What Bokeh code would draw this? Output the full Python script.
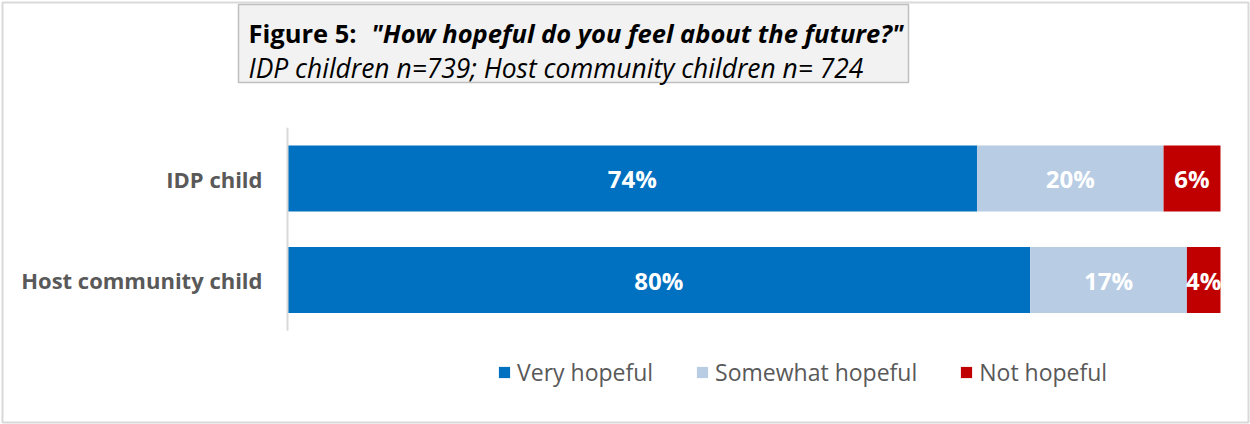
from bokeh.plotting import figure
from bokeh.models import Range1d, Label, Legend, LegendItem, ColumnDataSource
from bokeh.core.properties import value
from bokeh.embed import file_html
from bokeh.resources import INLINE

# ---- data ----
categories = ["Host community child", "IDP child"]   # bottom to top
series = ["Very hopeful", "Somewhat hopeful", "Not hopeful"]
very_hopeful = [79.6, 73.9]
somewhat_hopeful = [16.8, 20.0]
not_hopeful = [3.6, 6.1]
colors = ["#0070C0", "#B8CCE4", "#C00000"]
title_bold = "Figure 5: "
title_question = "\"How hopeful do you feel about the future?\""
subtitle = "IDP children n=739; Host community children n= 724"

FONT = "Open Sans"
GREY = "#595959"
W, H = 1250, 424

# pixel geometry of the plotting area (bars span 0..100 %)
BAR_LEFT_PX, BAR_RIGHT_PX = 287, 1220
ROW_TOP_PX, ROW_STEP_PX = 178, 101.5   # centre of top row, spacing of rows
n = len(categories)
sx = (BAR_RIGHT_PX - BAR_LEFT_PX) / 100.0


def dx(px):
    return (px - BAR_LEFT_PX) / sx


def dy(py):
    return (n - 1) - (py - ROW_TOP_PX) / ROW_STEP_PX


p = figure(width=W, height=H, output_backend="svg", toolbar_location=None,
           x_range=Range1d(dx(0), dx(W)), y_range=Range1d(dy(H), dy(0)),
           x_axis_location=None, y_axis_location=None, min_border=0)
p.grid.visible = False
p.outline_line_color = None
p.background_fill_color = "white"

# outer border
p.quad(left=[dx(2)], right=[dx(1248)], top=[dy(2)], bottom=[dy(422)],
       fill_alpha=0, line_color="#D9D9D9", line_width=2)

# title box
p.quad(left=[dx(238)], right=[dx(908)], top=[dy(4)], bottom=[dy(82)],
       fill_color="#F2F2F2", line_color="#BFBFBF", line_width=1.5)
p.add_layout(Label(x=dx(248), y=dy(32), text=title_bold, text_font=FONT,
                   text_font_style="bold", text_font_size="25.5px",
                   text_color="black", text_baseline="alphabetic"))
p.add_layout(Label(x=dx(903), y=dy(32), text=title_question, text_font=FONT,
                   text_font_style="bold italic", text_font_size="25.5px",
                   text_color="black", text_baseline="alphabetic",
                   text_align="right"))
p.add_layout(Label(x=dx(248), y=dy(67), text=subtitle, text_font=FONT,
                   text_font_style="italic", text_font_size="26.4px",
                   text_color="black", text_baseline="alphabetic"))

# stacked bars
ys = list(range(n))
src = ColumnDataSource({"y": ys, series[0]: very_hopeful,
                        series[1]: somewhat_hopeful, series[2]: not_hopeful})
renderers = p.hbar_stack(series, y="y", height=0.65, color=colors,
                         line_color=None, source=src)

# data labels
for i, s in enumerate(series):
    vals = src.data[s]
    lefts = [sum(src.data[series[k]][j] for k in range(i)) for j in range(n)]
    centers = [lefts[j] + vals[j] / 2 for j in range(n)]
    texts = [f"{round(v)}%" for v in vals]
    p.text(x=centers, y=ys, text=texts, text_align="center", text_baseline="middle",
           text_color="white", text_font=value(FONT), text_font_style="bold",
           text_font_size="24px")

# category axis (line + labels)
p.segment(x0=[0], y0=[-0.5], x1=[0], y1=[n - 0.5], line_color="#D9D9D9",
          line_width=2)
p.text(x=[dx(262)] * n, y=ys, text=categories, text_align="right",
       text_baseline="middle", text_color=GREY, text_font=value(FONT),
       text_font_style="bold", text_font_size="22px")

legend = Legend(items=[LegendItem(label=s, renderers=[r]) for s, r in zip(series, renderers)],
                orientation="horizontal", location=(497, 36),
                border_line_color=None, background_fill_alpha=0,
                glyph_width=14, glyph_height=14, label_standoff=6, spacing=42,
                padding=0, margin=0, label_text_font=FONT,
                label_text_font_size="23px", label_text_color=GREY)
p.add_layout(legend, "center")

open("out.html", "w").write(file_html(p, INLINE))
